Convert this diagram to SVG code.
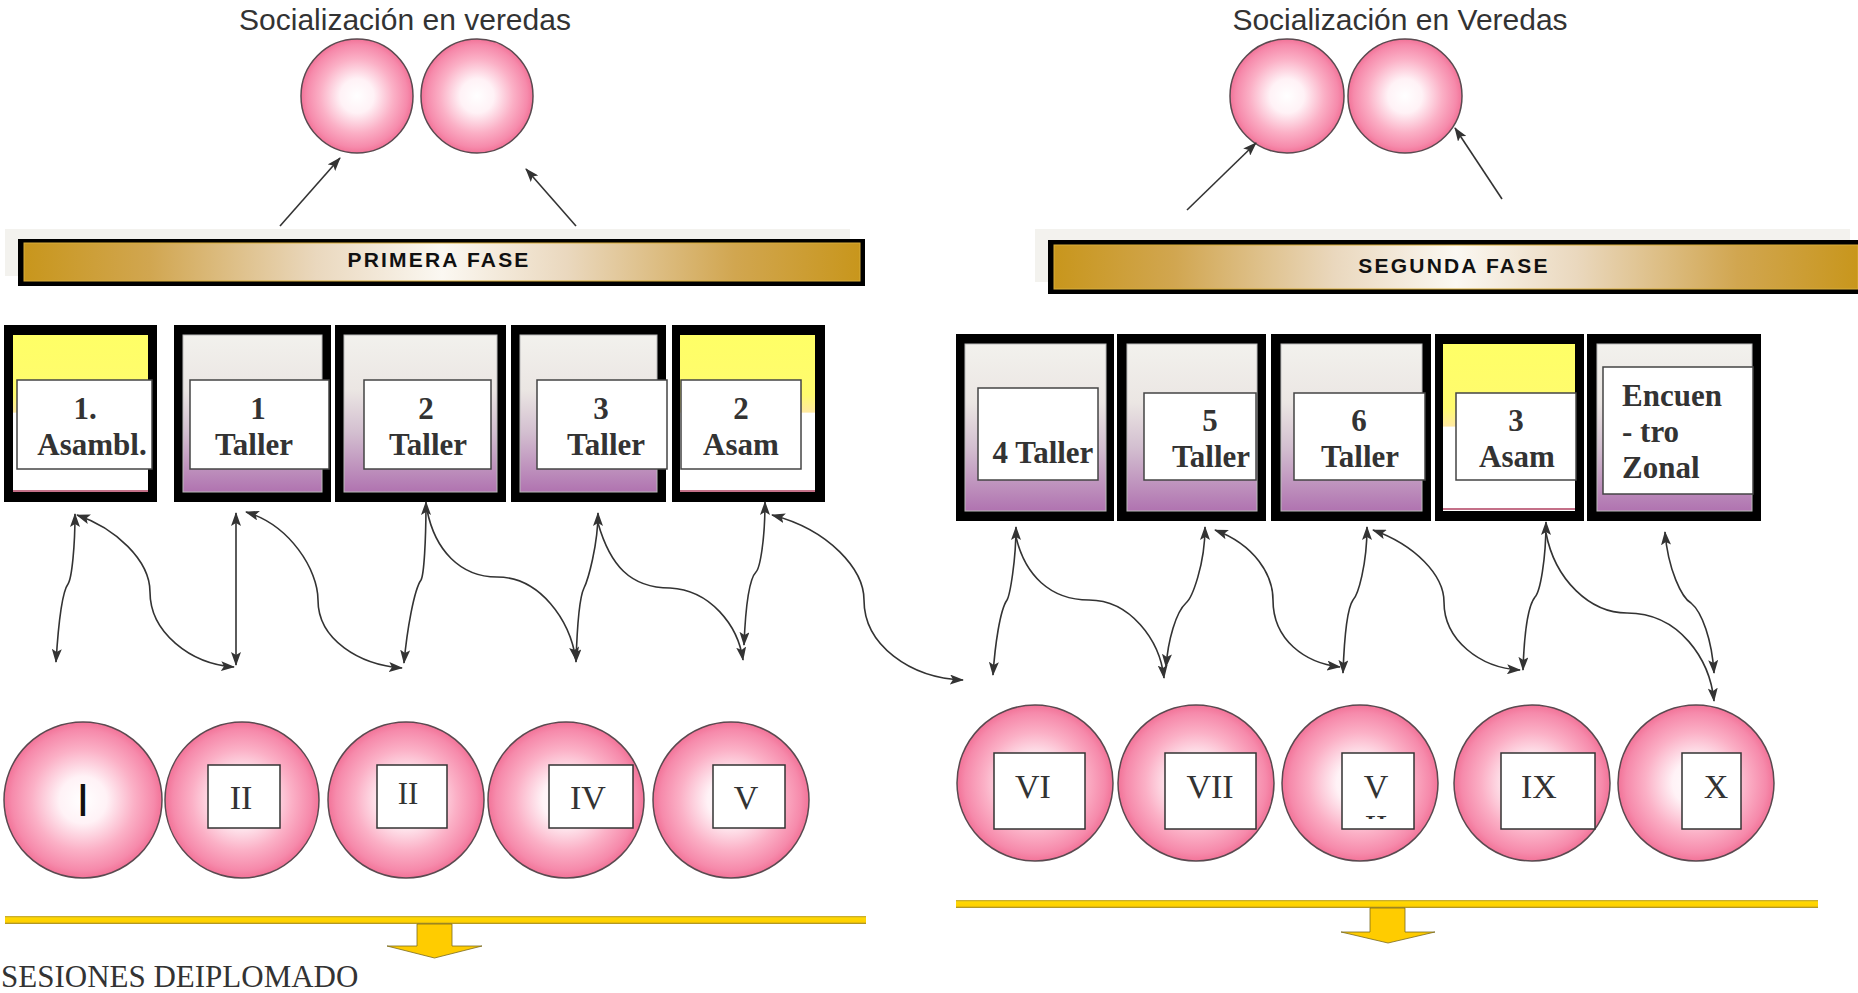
<svg xmlns="http://www.w3.org/2000/svg" width="1858" height="993" viewBox="0 0 1858 993">
<defs>
<radialGradient id="pink" cx="50%" cy="50%" r="50%">
<stop offset="0" stop-color="#ffffff"/>
<stop offset="0.3" stop-color="#fff2f6"/>
<stop offset="0.65" stop-color="#fbb0c6"/>
<stop offset="0.9" stop-color="#f68aab"/>
<stop offset="1" stop-color="#f27398"/>
</radialGradient>
<linearGradient id="gold" x1="0" y1="0" x2="1" y2="0">
<stop offset="0" stop-color="#c8961c"/>
<stop offset="0.15" stop-color="#d1a650"/>
<stop offset="0.35" stop-color="#ead8be"/>
<stop offset="0.5" stop-color="#fbf8f2"/>
<stop offset="0.65" stop-color="#ead8be"/>
<stop offset="0.85" stop-color="#d1a650"/>
<stop offset="1" stop-color="#c8961c"/>
</linearGradient>
<linearGradient id="purple" x1="0" y1="0" x2="0" y2="1">
<stop offset="0" stop-color="#f2f1ed"/>
<stop offset="0.35" stop-color="#ebe6e3"/>
<stop offset="0.62" stop-color="#d3bfd0"/>
<stop offset="1" stop-color="#b073b0"/>
</linearGradient>
<linearGradient id="yellow" x1="0" y1="0" x2="0" y2="1">
<stop offset="0" stop-color="#ffff66"/>
<stop offset="0.38" stop-color="#fffb6e"/>
<stop offset="0.49" stop-color="#ffe9a0"/>
<stop offset="0.5" stop-color="#ffffff"/>
<stop offset="1" stop-color="#ffffff"/>
</linearGradient>
<linearGradient id="ybar" x1="0" y1="0" x2="0" y2="1">
<stop offset="0" stop-color="#b8a040"/>
<stop offset="0.25" stop-color="#ffd800"/>
<stop offset="0.75" stop-color="#ffd000"/>
<stop offset="1" stop-color="#9a8530"/>
</linearGradient>
<marker id="ah" viewBox="0 0 14 10" markerWidth="14" markerHeight="10" refX="13" refY="5" orient="auto-start-reverse" markerUnits="userSpaceOnUse">
<path d="M0,0 L14,5 L0,10 L3,5 z" fill="#333"/>
</marker>
<clipPath id="clip8"><rect x="1342" y="753" width="72" height="66"/></clipPath>
<style>
.lbl{font-family:"Liberation Sans",Arial,sans-serif;font-size:30px;fill:#333;text-anchor:middle}
.fase{font-family:"Liberation Sans",Arial,sans-serif;font-weight:bold;font-size:21px;letter-spacing:2.2px;fill:#111;text-anchor:middle}
.bt{font-family:"Liberation Serif","Times New Roman",serif;font-weight:bold;font-size:31px;fill:#333;text-anchor:middle}
.rt{font-family:"Liberation Serif","Times New Roman",serif;font-size:34px;fill:#333;text-anchor:middle}
.ell{fill:url(#pink);stroke:#5a4a50;stroke-width:1.5}
.outer{fill:#000}
.pin{fill:url(#purple);stroke:#bbb;stroke-width:1}
.yin{fill:url(#yellow)}
.tb{fill:#fff;stroke:#444;stroke-width:1.5}
.rb{fill:#fff;stroke:#333;stroke-width:1.5}
.con{fill:none;stroke:#333;stroke-width:1.6}
.ybar{fill:url(#ybar)}
.yarr{fill:#ffcc00;stroke:#7a6a20;stroke-width:0.8}
</style>
</defs>
<rect width="1858" height="993" fill="#fff"/>

<g id="soc-left">
<text class="lbl" x="405" y="30">Socialización en veredas</text>
<ellipse class="ell" cx="357" cy="96" rx="56" ry="57"/>
<ellipse class="ell" cx="477" cy="96" rx="56" ry="57"/>
</g>
<g id="soc-right">
<text class="lbl" x="1400" y="30">Socialización en Veredas</text>
<ellipse class="ell" cx="1287" cy="96" rx="57" ry="57"/>
<ellipse class="ell" cx="1405" cy="96" rx="57" ry="57"/>
</g>

<g id="primera-fase">
<rect x="5" y="229" width="845" height="47" fill="#f3f2ee"/>
<rect x="18" y="239" width="847" height="47" fill="#000"/>
<rect x="24" y="243" width="836" height="38" fill="url(#gold)" stroke="#d9ae3a" stroke-width="1"/>
<text class="fase" x="439" y="267">PRIMERA FASE</text>
</g>
<g id="segunda-fase">
<rect x="1035" y="229" width="815" height="53" fill="#f3f2ee"/>
<rect x="1048" y="240" width="810" height="54" fill="#000"/>
<rect x="1054" y="245" width="804" height="44" fill="url(#gold)" stroke="#d9ae3a" stroke-width="1"/>
<text class="fase" x="1454" y="273">SEGUNDA FASE</text>
</g>

<g id="box1">
<rect class="outer" x="4" y="325" width="153" height="177"/>
<rect class="yin" x="13" y="335" width="135" height="157"/>
<line x1="13" y1="491" x2="148" y2="491" stroke="#b04060" stroke-width="1.5"/>
<rect class="tb" x="17" y="380" width="135" height="89"/>
<text class="bt" x="85" y="419">1.</text>
<text class="bt" x="92" y="455">Asambl.</text>
</g>
<g id="box2">
<rect class="outer" x="174" y="325" width="157" height="177"/>
<rect class="pin" x="183" y="335" width="139" height="157"/>
<rect class="tb" x="190" y="380" width="139" height="89"/>
<text class="bt" x="258" y="419">1</text>
<text class="bt" x="254" y="455">Taller</text>
</g>
<g id="box3">
<rect class="outer" x="335" y="325" width="171" height="177"/>
<rect class="pin" x="344" y="335" width="153" height="157"/>
<rect class="tb" x="364" y="380" width="127" height="89"/>
<text class="bt" x="426" y="419">2</text>
<text class="bt" x="428" y="455">Taller</text>
</g>
<g id="box4">
<rect class="outer" x="511" y="325" width="155" height="177"/>
<rect class="pin" x="520" y="335" width="137" height="157"/>
<rect class="tb" x="537" y="380" width="130" height="89"/>
<text class="bt" x="601" y="419">3</text>
<text class="bt" x="606" y="455">Taller</text>
</g>
<g id="box5">
<rect class="outer" x="672" y="325" width="153" height="177"/>
<rect class="yin" x="680" y="335" width="135" height="157"/>
<line x1="680" y1="491" x2="815" y2="491" stroke="#b04060" stroke-width="1.5"/>
<rect class="tb" x="681" y="380" width="120" height="89"/>
<text class="bt" x="741" y="419">2</text>
<text class="bt" x="741" y="455">Asam</text>
</g>

<g id="box6">
<rect class="outer" x="956" y="334" width="158" height="187"/>
<rect class="pin" x="965" y="344" width="141" height="167"/>
<rect class="tb" x="978" y="388" width="120" height="92"/>
<text class="bt" x="1043" y="463">4 Taller</text>
</g>
<g id="box7">
<rect class="outer" x="1117" y="334" width="149" height="187"/>
<rect class="pin" x="1127" y="344" width="130" height="167"/>
<rect class="tb" x="1144" y="393" width="112" height="87"/>
<text class="bt" x="1210" y="431">5</text>
<text class="bt" x="1211" y="467">Taller</text>
</g>
<g id="box8">
<rect class="outer" x="1271" y="334" width="160" height="187"/>
<rect class="pin" x="1281" y="344" width="141" height="167"/>
<rect class="tb" x="1294" y="393" width="131" height="87"/>
<text class="bt" x="1359" y="431">6</text>
<text class="bt" x="1360" y="467">Taller</text>
</g>
<g id="box9">
<rect class="outer" x="1435" y="334" width="149" height="187"/>
<rect class="yin" x="1443" y="344" width="132" height="167"/>
<line x1="1443" y1="509" x2="1575" y2="509" stroke="#b04060" stroke-width="1.5"/>
<rect class="tb" x="1456" y="393" width="120" height="87"/>
<text class="bt" x="1516" y="431">3</text>
<text class="bt" x="1517" y="467">Asam</text>
</g>
<g id="box10">
<rect class="outer" x="1587" y="334" width="174" height="187"/>
<rect class="pin" x="1597" y="344" width="155" height="167"/>
<rect class="tb" x="1603" y="367" width="150" height="127"/>
<text class="bt" x="1622" y="406" style="text-anchor:start">Encuen</text>
<text class="bt" x="1622" y="442" style="text-anchor:start">- tro</text>
<text class="bt" x="1622" y="478" style="text-anchor:start">Zonal</text>
</g>

<g id="sesion-I">
<ellipse class="ell" cx="83" cy="800" rx="79" ry="78"/>
<text x="83" y="816" style="font-family:'Liberation Sans',Arial,sans-serif;font-size:46px;fill:#111;text-anchor:middle">I</text>
</g>
<g id="sesion-II">
<ellipse class="ell" cx="242" cy="800" rx="77" ry="78"/>
<rect class="rb" x="208" y="765" width="72" height="63"/>
<text class="rt" x="241" y="809">II</text>
</g>
<g id="sesion-III">
<ellipse class="ell" cx="406" cy="800" rx="78" ry="78"/>
<rect class="rb" x="377" y="765" width="70" height="63"/>
<text class="rt" x="408" y="804" style="font-size:31px">II</text>
</g>
<g id="sesion-IV">
<ellipse class="ell" cx="566" cy="800" rx="78" ry="78"/>
<rect class="rb" x="549" y="765" width="84" height="63"/>
<text class="rt" x="588" y="809">IV</text>
</g>
<g id="sesion-V">
<ellipse class="ell" cx="731" cy="800" rx="78" ry="78"/>
<rect class="rb" x="713" y="765" width="72" height="63"/>
<text class="rt" x="746" y="809">V</text>
</g>

<g id="sesion-VI">
<ellipse class="ell" cx="1035" cy="783" rx="78" ry="78"/>
<rect class="rb" x="994" y="753" width="91" height="76"/>
<text class="rt" x="1033" y="798">VI</text>
</g>
<g id="sesion-VII">
<ellipse class="ell" cx="1196" cy="783" rx="78" ry="78"/>
<rect class="rb" x="1165" y="753" width="91" height="76"/>
<text class="rt" x="1210" y="798">VII</text>
</g>
<g id="sesion-VIII">
<ellipse class="ell" cx="1360" cy="783" rx="78" ry="78"/>
<rect class="rb" x="1342" y="753" width="72" height="76"/>
<text class="rt" x="1376" y="798">V</text>
<text class="rt" x="1376" y="838" clip-path="url(#clip8)">II</text>
</g>
<g id="sesion-IX">
<ellipse class="ell" cx="1532" cy="783" rx="78" ry="78"/>
<rect class="rb" x="1501" y="753" width="94" height="76"/>
<text class="rt" x="1539" y="798">IX</text>
</g>
<g id="sesion-X">
<ellipse class="ell" cx="1696" cy="783" rx="78" ry="78"/>
<rect class="rb" x="1682" y="753" width="59" height="76"/>
<text class="rt" x="1716" y="798">X</text>
</g>

<g id="diplomado-left">
<rect class="ybar" x="5" y="916" width="861" height="8"/>
<polygon class="yarr" points="417,924 452,924 452,946 482,946 434.5,958 387,946 417,946"/>
<text x="1" y="987" style="font-family:'Liberation Serif','Times New Roman',serif;font-size:31px;fill:#333">SESIONES DEIPLOMADO</text>
</g>
<g id="diplomado-right">
<rect class="ybar" x="956" y="900" width="862" height="8"/>
<polygon class="yarr" points="1370,908 1405,908 1405,932 1435,932 1388,943 1341,932 1370,932"/>
</g>

<g id="connectors">
<path class="con" marker-end="url(#ah)" d="M280,226 L340,158"/>
<path class="con" marker-end="url(#ah)" d="M576,226 L526,169"/>
<path class="con" marker-end="url(#ah)" d="M1187,210 L1256,143"/>
<path class="con" marker-end="url(#ah)" d="M1502,199 L1455,128"/>

<path class="con" marker-start="url(#ah)" marker-end="url(#ah)" d="M75,514 C75,545 72,578 68,584 C62,592 58,630 56,662"/>
<path class="con" marker-start="url(#ah)" marker-end="url(#ah)" d="M77,515 C115,528 150,560 150,592 C150,632 190,664 234,667"/>

<path class="con" marker-start="url(#ah)" marker-end="url(#ah)" d="M236,513 L236,665"/>
<path class="con" marker-start="url(#ah)" marker-end="url(#ah)" d="M246,512 C290,525 318,570 318,600 C318,640 360,665 402,668"/>

<path class="con" marker-start="url(#ah)" marker-end="url(#ah)" d="M426,502 C426,540 424,575 421,580 C414,590 407,630 404,663"/>
<path class="con" marker-end="url(#ah)" d="M427,510 C435,550 460,577 497,577 C540,577 570,620 576,660"/>

<path class="con" marker-start="url(#ah)" marker-end="url(#ah)" d="M598,513 C598,545 588,580 584,588 C579,598 577,630 576,662"/>
<path class="con" marker-end="url(#ah)" d="M598,523 C610,565 630,588 670,588 C710,590 738,625 743,660"/>

<path class="con" marker-start="url(#ah)" marker-end="url(#ah)" d="M765,502 C765,540 760,568 756,572 C748,580 745,620 744,645"/>
<path class="con" marker-start="url(#ah)" marker-end="url(#ah)" d="M772,515 C830,530 864,570 864,600 C864,645 910,678 963,680"/>

<path class="con" marker-start="url(#ah)" marker-end="url(#ah)" d="M1016,527 C1016,560 1010,595 1007,600 C1000,610 995,645 993,675"/>
<path class="con" marker-end="url(#ah)" d="M1016,537 C1025,575 1050,600 1089,600 C1130,600 1160,640 1164,678"/>

<path class="con" marker-start="url(#ah)" marker-end="url(#ah)" d="M1205,527 C1205,565 1192,598 1186,603 C1176,612 1168,640 1166,667"/>
<path class="con" marker-start="url(#ah)" marker-end="url(#ah)" d="M1215,530 C1255,545 1273,575 1273,600 C1273,640 1305,663 1340,667"/>

<path class="con" marker-start="url(#ah)" marker-end="url(#ah)" d="M1367,527 C1367,565 1358,595 1353,600 C1346,610 1344,645 1343,673"/>
<path class="con" marker-start="url(#ah)" marker-end="url(#ah)" d="M1373,530 C1415,545 1444,575 1444,602 C1444,640 1480,668 1520,670"/>

<path class="con" marker-start="url(#ah)" marker-end="url(#ah)" d="M1546,522 C1546,560 1540,592 1535,597 C1527,607 1524,640 1523,670"/>
<path class="con" marker-end="url(#ah)" d="M1546,533 C1555,580 1590,613 1627,613 C1680,613 1710,660 1714,701"/>

<path class="con" marker-start="url(#ah)" marker-end="url(#ah)" d="M1665,532 C1668,570 1682,598 1691,603 C1702,612 1712,640 1714,673"/>
</g>
</svg>
